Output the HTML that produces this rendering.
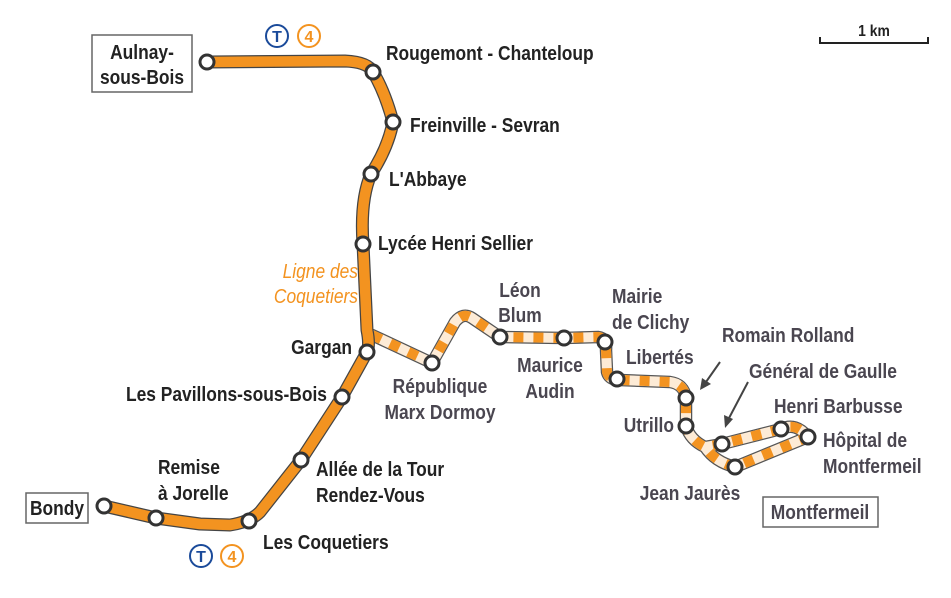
<!DOCTYPE html>
<html><head><meta charset="utf-8"><style>
body{margin:0;background:#fff}
svg text{font-family:"Liberation Sans Narrow","Liberation Sans",sans-serif;font-weight:bold;font-size:20px;transform-box:fill-box;transform:scaleX(.87);transform-origin:left center}
svg text[text-anchor="middle"]{transform-origin:center center}
svg text[text-anchor="end"]{transform-origin:right center}
svg text.n{transform:none}
.d{fill:#222}.g{fill:#4a4650}
</style></head><body>
<svg width="951" height="593" viewBox="0 0 951 593" xmlns="http://www.w3.org/2000/svg">
<g fill="none" stroke-linejoin="round" stroke-linecap="round">
<path d="M372,335 L432,363 L455,322 Q463,312 472,318 L500,337 L564,338 L598,337 Q607,338 606,350 L607,372 Q609,380 620,380 L670,382 Q684,384 686,398 L686,426 Q690,440 705,447 L722,444 L781,429 Q796,422 808,437 L735,467 Q715,462 705,447" stroke="#555" stroke-width="12.5"/>
<path d="M372,335 L432,363 L455,322 Q463,312 472,318 L500,337 L564,338 L598,337 Q607,338 606,350 L607,372 Q609,380 620,380 L670,382 Q684,384 686,398 L686,426 Q690,440 705,447 L722,444 L781,429 Q796,422 808,437 L735,467 Q715,462 705,447" stroke="#fdebd6" stroke-width="10"/>
<path d="M372,335 L432,363 L455,322 Q463,312 472,318 L500,337 L564,338 L598,337 Q607,338 606,350 L607,372 Q609,380 620,380 L670,382 Q684,384 686,398 L686,426 Q690,440 705,447 L722,444 L781,429 Q796,422 808,437 L735,467 Q715,462 705,447" stroke="#f39320" stroke-width="10" stroke-dasharray="10 10" stroke-linecap="butt"/>
<path d="M207,62 L345,61 Q368,62 373,72 Q385,92 393,122 Q388,148 371,174 Q360,200 363,244 L367,330 Q370,345 367,352 L342,397 L301,460 L260,512 Q250,522 230,525 L200,524 L156,518 L104,506" stroke="#444" stroke-width="13"/>
<path d="M207,62 L345,61 Q368,62 373,72 Q385,92 393,122 Q388,148 371,174 Q360,200 363,244 L367,330 Q370,345 367,352 L342,397 L301,460 L260,512 Q250,522 230,525 L200,524 L156,518 L104,506" stroke="#f39320" stroke-width="10.5"/>
</g>
<g fill="#fff" stroke="#333" stroke-width="3">
<circle cx="207" cy="62" r="7"/><circle cx="373" cy="72" r="7"/><circle cx="393" cy="122" r="7"/><circle cx="371" cy="174" r="7"/><circle cx="363" cy="244" r="7"/><circle cx="367" cy="352" r="7"/><circle cx="342" cy="397" r="7"/><circle cx="301" cy="460" r="7"/><circle cx="249" cy="521" r="7"/><circle cx="156" cy="518" r="7"/><circle cx="104" cy="506" r="7"/>
<circle cx="432" cy="363" r="7"/><circle cx="500" cy="337" r="7"/><circle cx="564" cy="338" r="7"/><circle cx="605" cy="342" r="7"/><circle cx="617" cy="379" r="7"/><circle cx="686" cy="398" r="7"/><circle cx="686" cy="426" r="7"/><circle cx="722" cy="444" r="7"/><circle cx="781" cy="429" r="7"/><circle cx="808" cy="437" r="7"/><circle cx="735" cy="467" r="7"/>
</g>
<g fill="#fff" stroke="#666" stroke-width="1.5">
<rect x="92" y="35" width="100" height="57"/><rect x="26" y="493" width="62" height="30"/><rect x="763" y="497" width="115" height="30"/>
</g>
<text x="142" y="59" class="d" text-anchor="middle">Aulnay-</text>
<text x="142" y="84" class="d" text-anchor="middle">sous-Bois</text>
<text x="57" y="515" class="d" text-anchor="middle">Bondy</text>
<text x="820" y="519" class="g" text-anchor="middle">Montfermeil</text>
<text x="386" y="60" class="d">Rougemont - Chanteloup</text>
<text x="410" y="132" class="d">Freinville - Sevran</text>
<text x="389" y="186" class="d">L'Abbaye</text>
<text x="378" y="250" class="d">Lycée Henri Sellier</text>
<text x="352" y="354" class="d" text-anchor="end">Gargan</text>
<text x="327" y="401" class="d" text-anchor="end">Les Pavillons-sous-Bois</text>
<text x="316" y="476" class="d">Allée de la Tour</text>
<text x="316" y="502" class="d">Rendez-Vous</text>
<text x="263" y="549" class="d">Les Coquetiers</text>
<text x="158" y="474" class="d">Remise</text>
<text x="158" y="500" class="d">à Jorelle</text>
<text x="358" y="278" fill="#f39320" text-anchor="end" style="font-style:italic;font-weight:normal">Ligne des</text>
<text x="358" y="303" fill="#f39320" text-anchor="end" style="font-style:italic;font-weight:normal">Coquetiers</text>
<text x="440" y="393" class="g" text-anchor="middle">République</text>
<text x="440" y="419" class="g" text-anchor="middle">Marx Dormoy</text>
<text x="520" y="297" class="g" text-anchor="middle">Léon</text>
<text x="520" y="322" class="g" text-anchor="middle">Blum</text>
<text x="550" y="372" class="g" text-anchor="middle">Maurice</text>
<text x="550" y="398" class="g" text-anchor="middle">Audin</text>
<text x="612" y="303" class="g">Mairie</text>
<text x="612" y="329" class="g">de Clichy</text>
<text x="626" y="364" class="g">Libertés</text>
<text x="674" y="432" class="g" text-anchor="end">Utrillo</text>
<text x="722" y="342" class="g">Romain Rolland</text>
<text x="749" y="378" class="g">Général de Gaulle</text>
<text x="774" y="413" class="g">Henri Barbusse</text>
<text x="823" y="447" class="g">Hôpital de</text>
<text x="823" y="473" class="g">Montfermeil</text>
<text x="690" y="500" class="g" text-anchor="middle">Jean Jaurès</text>
<g stroke="#444" stroke-width="2" fill="none"><path d="M720,362 L706,382"/><path d="M748,382 L728,420"/></g>
<g fill="#444"><path d="M700,390 L702,378 L711,384Z"/><path d="M725,428 L724,415 L733,419Z"/></g>
<circle cx="277" cy="36" r="11" fill="#fff" stroke="#1a4a9a" stroke-width="2"/><text x="277" y="42" class="n" text-anchor="middle" fill="#1a4a9a" style="font-size:16px">T</text>
<circle cx="309" cy="36" r="11" fill="#fff" stroke="#f39320" stroke-width="2"/><text x="309" y="42" class="n" text-anchor="middle" fill="#f39320" style="font-size:16px">4</text>
<circle cx="201" cy="556" r="11" fill="#fff" stroke="#1a4a9a" stroke-width="2"/><text x="201" y="562" class="n" text-anchor="middle" fill="#1a4a9a" style="font-size:16px">T</text>
<circle cx="232" cy="556" r="11" fill="#fff" stroke="#f39320" stroke-width="2"/><text x="232" y="562" class="n" text-anchor="middle" fill="#f39320" style="font-size:16px">4</text>
<path d="M820,37 L820,43 L928,43 L928,37" stroke="#222" stroke-width="2" fill="none"/>
<text x="874" y="36" class="d" text-anchor="middle" style="font-size:16px">1 km</text>
</svg>
</body></html>
